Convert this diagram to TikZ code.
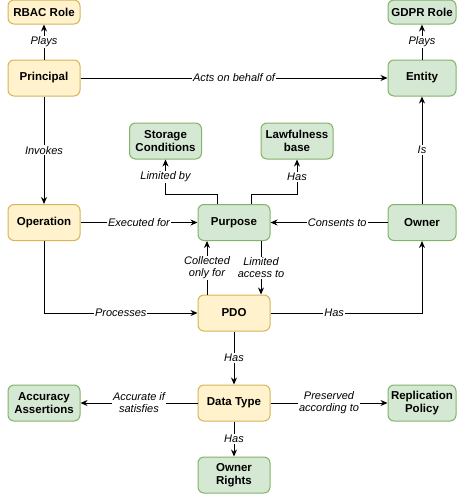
\documentclass[tikz,border=0pt]{standalone}
\usepackage{fontspec}
\setmainfont{Liberation Sans}
\usepackage{tikz}
\usetikzlibrary{arrows.meta}

\definecolor{yelfill}{HTML}{FFF2CC}
\definecolor{yelline}{HTML}{D6B656}
\definecolor{grnfill}{HTML}{D5E8D4}
\definecolor{grnline}{HTML}{82B366}

\tikzset{
  entbox/.style = {rounded corners = 6pt, line width = 1pt, minimum width = 72pt, minimum height = 36pt, inner sep = 1pt, align = center, font = \bfseries\fontsize{11.5}{13.5}\selectfont},
  yel/.style = {entbox, draw = yelline, fill = yelfill},
  grn/.style = {entbox, draw = grnline, fill = grnfill},
  lbl/.style = {fill = white, inner sep = 1pt, align = center, font = \itshape\fontsize{11}{12}\selectfont},
  rel/.style = {-{Stealth[length = 7pt, width = 6pt]}, line width = 1pt}
}

\begin{document}
\begin{tikzpicture}[x = 1pt, y = -1pt]
    \useasboundingbox (0,0) rectangle (456,496);

    \node[yel, minimum height = 24pt](rbac) at (44,12) {RBAC Role};
    \node[grn, minimum height = 24pt, minimum width = 68pt](gdpr) at (422,12) {GDPR Role};
    \node[yel](principal) at (44,78) {Principal};
    \node[grn, minimum width = 68pt](entity) at (422,78) {Entity};
    \node[grn](storage) at (165.5,141) {Storage\\Conditions};
    \node[grn](lawful) at (297,141) {Lawfulness\\base};
    \node[yel](operation) at (44,222.5) {Operation};
    \node[grn](purpose) at (234,222.5) {Purpose};
    \node[grn, minimum width = 68pt](owner) at (422,222.5) {Owner};
    \node[yel](pdo) at (234,313) {PDO};
    \node[grn](accuracy) at (44,403) {Accuracy\\Assertions};
    \node[yel](datatype) at (234,403) {Data Type};
    \node[grn, minimum width = 68pt](replication) at (422,403) {Replication\\Policy};
    \node[grn](ownerrights) at (234,475) {Owner\\Rights};

    \draw [rel] (principal) -- node[lbl]{Plays} (rbac);
    \draw [rel] (entity) -- node[lbl]{Plays} (gdpr);
    \draw [rel] (principal) -- node[lbl]{Acts on behalf of} (entity);
    \draw [rel] (principal) -- node[lbl]{Invokes} (operation);
    \draw [rel] (owner) -- node[lbl]{Is} (entity);
    \draw [rel] (operation) -- node[lbl]{Executed for} (purpose);
    \draw [rel] (owner) -- node[lbl, pos = 0.43]{Consents to} (purpose);

    % purpose up to its two attributes
    \draw [rel] ([xshift = -17pt]purpose.north) -- ++(0,-9.5) -| node[lbl, pos = 0.75]{Limited by} (storage);
    \draw [rel] ([xshift = 17.5pt]purpose.north) -- ++(0,-9.5) -| node[lbl, pos = 0.75]{Has} (lawful);

    \draw [rel] ([xshift = -27pt]pdo.north) -- node[lbl]{Collected\\only for} ([xshift = -27pt]purpose.south);
    \draw [rel] ([xshift = 27pt]purpose.south) -- node[lbl]{Limited\\access to} ([xshift = 27pt]pdo.north);
    \draw [rel] (operation) |- node[lbl, pos = 0.75]{Processes} (pdo);
    \draw [rel] (pdo) -| node[lbl, pos = 0.21]{Has} (owner);

    \draw [rel] (pdo) -- node[lbl]{Has} (datatype);
    \draw [rel] (datatype) -- node[lbl]{Accurate if\\satisfies} (accuracy);
    \draw [rel] (datatype) -- node[lbl]{Preserved\\according to} (replication);
    \draw [rel] (datatype) -- node[lbl]{Has} (ownerrights);
\end{tikzpicture}
\end{document}
